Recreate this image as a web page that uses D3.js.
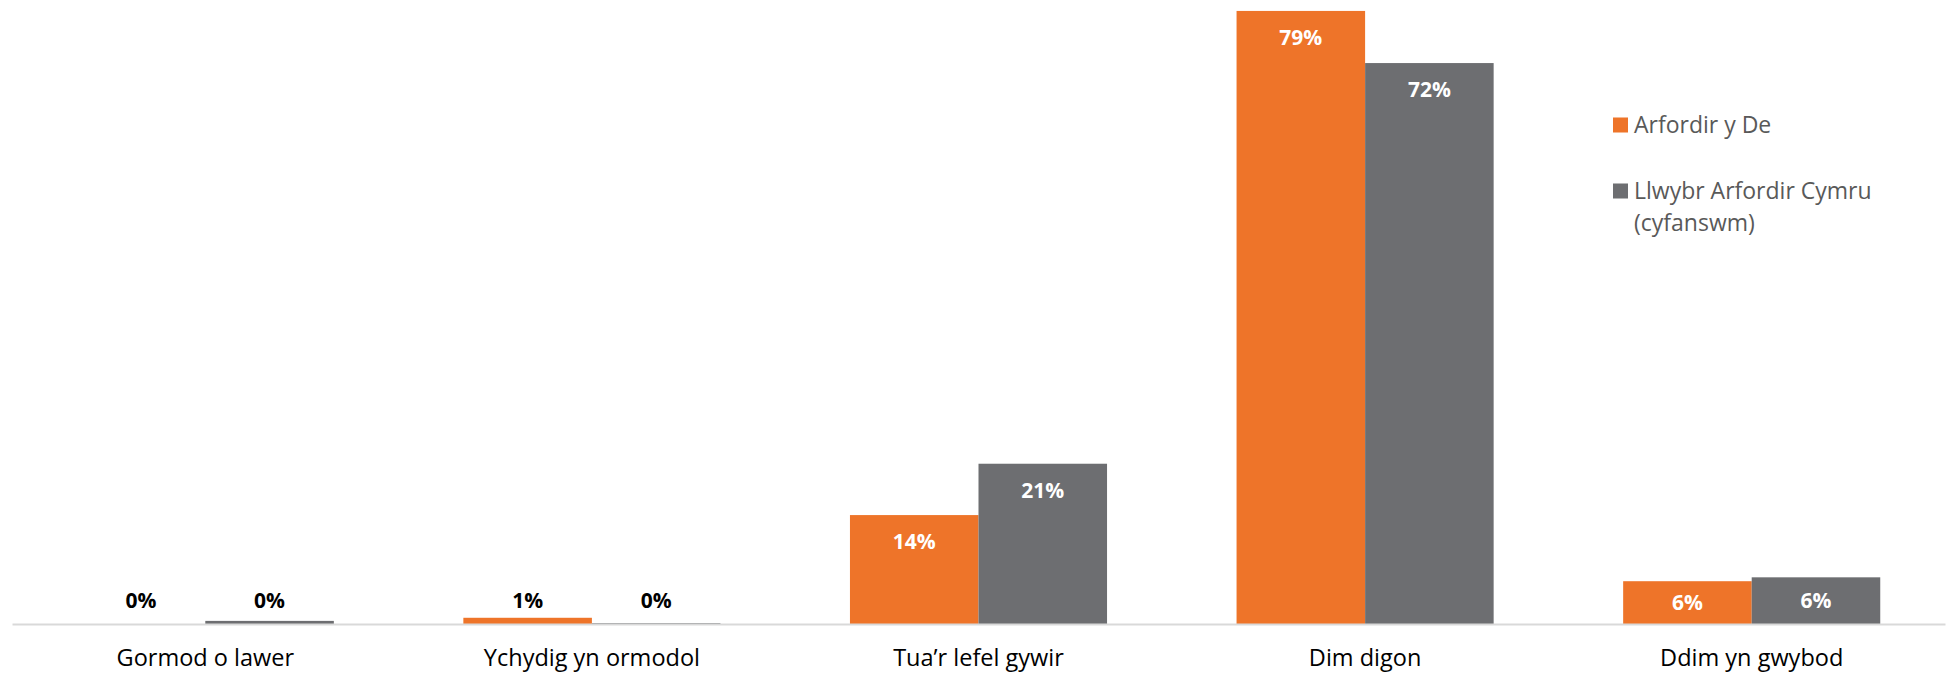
<!DOCTYPE html>
<html>
<head>
<meta charset="utf-8">
<script src="https://cdn.jsdelivr.net/npm/d3@7"></script>
<style>
  html, body { margin: 0; padding: 0; background: #fff; }
  svg { display: block; }
</style>
</head>
<body>
<script>
const categories = ["Gormod o lawer", "Ychydig yn ormodol", "Tua\u2019r lefel gywir", "Dim digon", "Ddim yn gwybod"];
const seriesNames = ["Arfordir y De", "Llwybr Arfordir Cymru (cyfanswm)"];
const arfordirYDe = [0, 0.8, 14.0, 78.8, 5.5];
const llwybrCymru = [0.4, 0.1, 20.6, 72.1, 6.0];
const valueLabels = [["0%", "1%", "14%", "79%", "6%"], ["0%", "0%", "21%", "72%", "6%"]];
const colors = ["#EE7429", "#6D6E71"];

const W = 1949, H = 674;
const svg = d3.select("body").append("svg").attr("width", W).attr("height", H);

const x0 = d3.scaleBand().domain(categories).range([12, 1945]).paddingInner(0.335).paddingOuter(0.1675);
const x1 = d3.scaleBand().domain([0, 1]).range([0, x0.bandwidth()]);
const y = d3.scaleLinear().domain([0, 80]).range([624, 1.6]);

const series = [arfordirYDe, llwybrCymru];

// bars
series.forEach((vals, si) => {
  svg.append("g").selectAll("rect").data(vals).join("rect")
    .attr("x", (d, i) => x0(categories[i]) + x1(si))
    .attr("width", x1.bandwidth())
    .attr("y", d => y(d))
    .attr("height", d => y(0) - y(d))
    .attr("fill", colors[si]);
});

// axis
const axis = svg.append("g").attr("transform", `translate(0,${y(0)})`)
  .call(d3.axisBottom(x0).tickSize(0).tickPadding(25).tickSizeOuter(0));
axis.select(".domain").attr("stroke", "#D9D9D9").attr("stroke-width", 2);
axis.selectAll("text")
  .attr("font-family", "'Open Sans', sans-serif")
  .attr("font-size", 23.5)
  .attr("fill", "#000");

// data labels
series.forEach((vals, si) => {
  svg.append("g").selectAll("text").data(vals).join("text")
    .attr("x", (d, i) => x0(categories[i]) + x1(si) + x1.bandwidth() / 2)
    .attr("y", d => {
      const top = y(d), h = y(0) - y(d);
      if (h < 30) return y(0) - 23 + 7;
      if (h < 60) return (top + y(0)) / 2 + 7;
      return top + 27 + 7;
    })
    .attr("text-anchor", "middle")
    .attr("font-family", "'Open Sans', sans-serif")
    .attr("font-weight", "bold")
    .attr("font-size", 21)
    .attr("fill", d => (y(0) - y(d) < 30 ? "#000" : "#fff"))
    .text((d, i) => valueLabels[si][i]);
});

// legend
const legend = svg.append("g").attr("font-family", "'Open Sans', sans-serif").attr("font-size", 23).attr("fill", "#595959");
const legendItems = [
  { lines: ["Arfordir y De"], y: 125 },
  { lines: ["Llwybr Arfordir Cymru", "(cyfanswm)"], y: 191 }
];
legendItems.forEach((it, i) => {
  legend.append("rect").attr("x", 1613).attr("y", it.y - 7.5).attr("width", 15).attr("height", 15).attr("fill", colors[i]);
  it.lines.forEach((ln, j) => {
    legend.append("text").attr("x", 1634).attr("y", it.y + 8 + j * 32).text(ln);
  });
});
</script>
</body>
</html>
